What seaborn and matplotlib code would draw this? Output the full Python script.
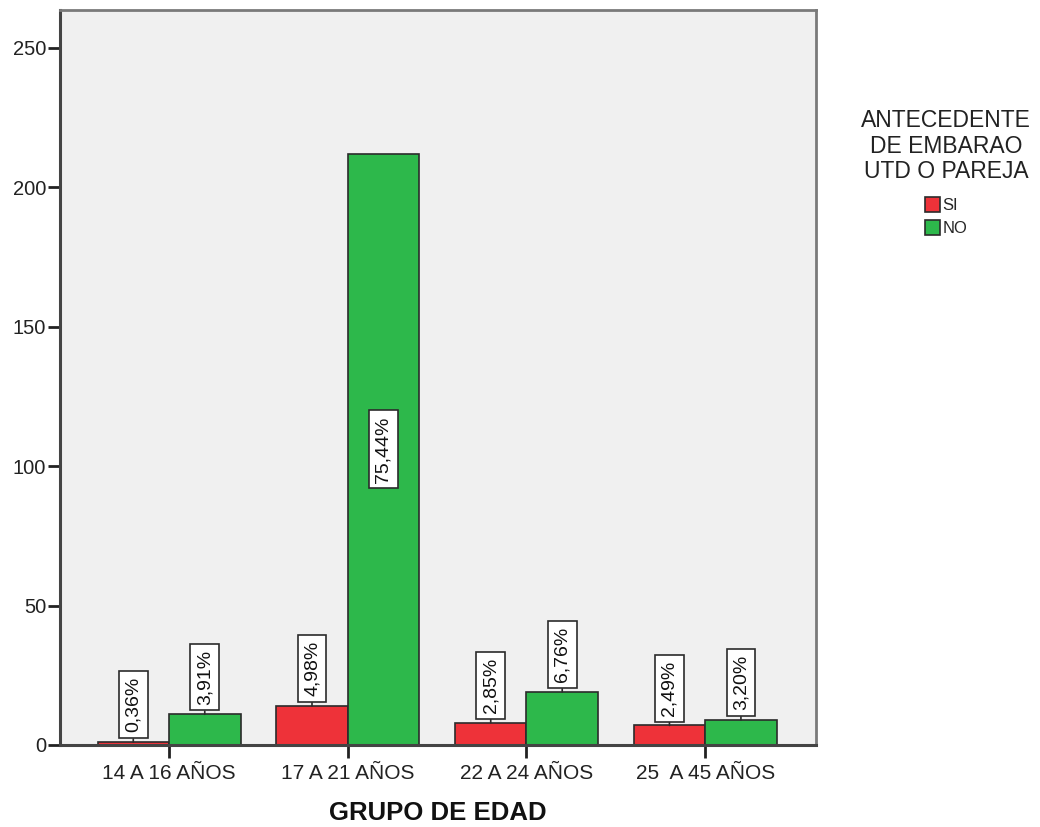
import matplotlib
matplotlib.use("Agg")
import matplotlib.pyplot as plt
import seaborn as sns
import pandas as pd

# Counts per age group and partner/UTD pregnancy history
grupos = ["14 A 16 AÑOS", "17 A 21 AÑOS", "22 A 24 AÑOS", "25  A 45 AÑOS"]
antecedente = ["SI", "NO"]
conteo_si = [1, 14, 8, 7]
conteo_no = [11, 212, 19, 9]
colores = ["#EE3239", "#2DB84B"]
y_ticks = [0, 50, 100, 150, 200, 250]

total = sum(conteo_si) + sum(conteo_no)

df = pd.DataFrame({
    "grupo": grupos * 2,
    "antecedente": [antecedente[0]] * len(grupos) + [antecedente[1]] * len(grupos),
    "conteo": conteo_si + conteo_no,
})

sns.set_style("white")
plt.rcParams["font.family"] = ["Liberation Sans", "DejaVu Sans"]

fig = plt.figure(figsize=(10.4, 8.27), dpi=100)
ax = fig.add_axes([60 / 1040, 1 - 745 / 827, (816 - 60) / 1040, (745 - 10) / 827])
ax.set_facecolor("#F0F0F0")

sns.barplot(
    data=df, x="grupo", y="conteo", hue="antecedente",
    order=grupos, hue_order=antecedente, palette=colores,
    width=0.8, edgecolor="#2b2b2b", linewidth=1.2, saturation=1,
    legend=True, ax=ax,
)

ax.set_xlim(-0.61, 3.62)
ax.set_ylim(0, 263.6)
ax.set_yticks(y_ticks)
ax.set_yticklabels([str(v) for v in y_ticks])
ax.set_ylabel("")
ax.set_xlabel("GRUPO DE EDAD", fontsize=18.5, fontweight="bold", labelpad=13, color="#111111")

ax.tick_params(axis="y", length=9, width=2, pad=1, labelsize=14.5, colors="#222222", left=True)
ax.tick_params(axis="x", length=9, width=2, pad=5, labelsize=15, colors="#222222", bottom=True)

for side in ["left", "bottom"]:
    ax.spines[side].set_color("#444444")
    ax.spines[side].set_linewidth(2.2)
for side in ["top", "right"]:
    ax.spines[side].set_color("#7a7a7a")
    ax.spines[side].set_linewidth(2)

# Percentage labels in boxed, rotated text
for cont in ax.containers:
    for bar in cont:
        h = bar.get_height()
        xc = bar.get_x() + bar.get_width() / 2
        txt = f"{100 * h / total:.2f}%".replace(".", ",")
        box = dict(boxstyle="square,pad=0.3", fc="white", ec="#2b2b2b", lw=1.2)
        if h > 100:
            ax.text(xc, h / 2, txt, rotation=90, ha="center", va="center",
                    fontsize=14, bbox=box, color="#111111")
        else:
            ax.annotate(txt, xy=(xc, h), xytext=(0, 7), textcoords="offset points",
                        rotation=90, ha="center", va="bottom", fontsize=14,
                        bbox=box, color="#111111",
                        arrowprops=dict(arrowstyle="-", color="#2b2b2b", lw=1.2,
                                        shrinkA=0, shrinkB=0))

handles, labels = ax.get_legend_handles_labels()
ax.get_legend().remove()
leg = fig.legend(
    handles, labels, title="ANTECEDENTE\nDE EMBARAO\nUTD O PAREJA",
    loc="upper center", bbox_to_anchor=(946 / 1040, 1 - 94 / 827),
    frameon=False, fontsize=12, title_fontsize=16.5,
    handlelength=0.9, handleheight=1.0, handletextpad=0.15, labelspacing=0.4,
)
title = leg.get_title()
title.set_multialignment("center")
title.set_linespacing(1.15)
title.set_color("#222222")
leg._legend_box.sep = 10

fig.savefig("out.png", dpi=100, facecolor="white")
